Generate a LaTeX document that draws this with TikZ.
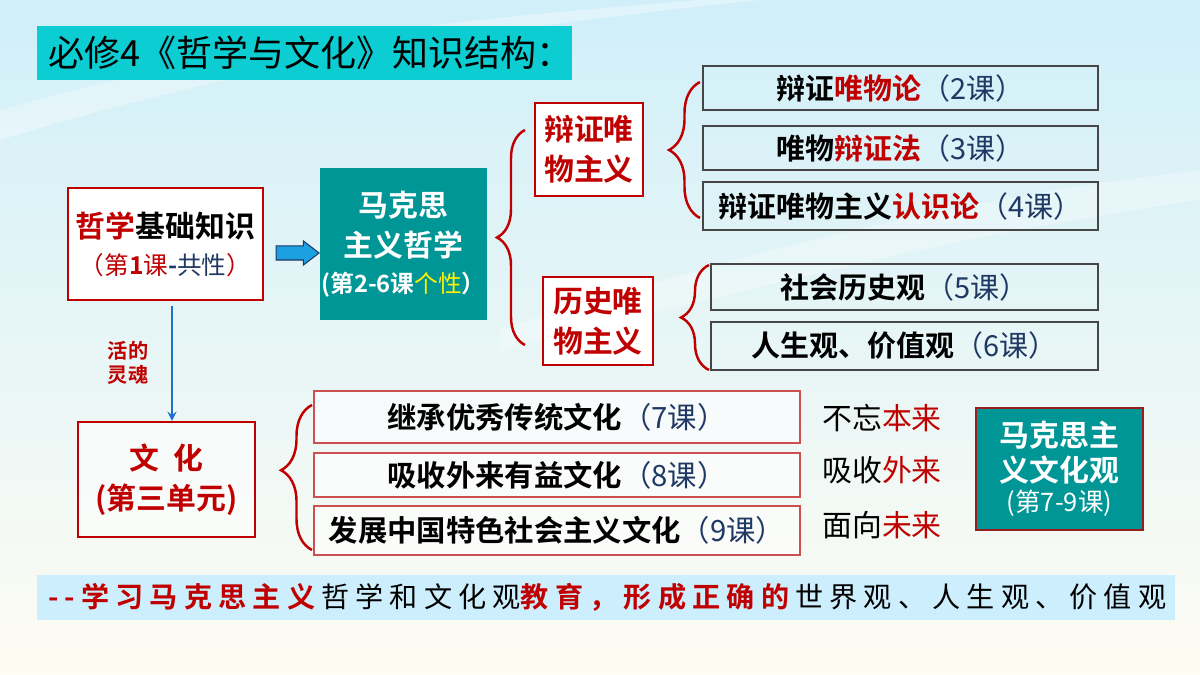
\documentclass[tikz,border=0pt]{standalone}
\usepackage{fontspec}
\setmainfont{Noto Sans CJK SC}[BoldFont={Noto Sans CJK SC Bold}]
\usetikzlibrary{shapes.arrows,decorations.pathreplacing}

\definecolor{hred}{RGB}{192,0,0}
\definecolor{navy}{RGB}{31,56,100}
\definecolor{tealbg}{RGB}{0,150,150}
\definecolor{cyanbar}{RGB}{12,206,210}
\definecolor{arrowblue}{RGB}{27,161,226}
\definecolor{lineblue}{RGB}{30,115,200}
\definecolor{palebar}{RGB}{205,238,252}
\definecolor{bgtop}{RGB}{208,239,249}
\definecolor{bgmid}{RGB}{236,248,250}
\definecolor{bgbot}{RGB}{254,252,243}
\definecolor{boxgray}{RGB}{70,70,70}
\definecolor{thinred}{RGB}{205,80,80}
\definecolor{darkred}{RGB}{150,30,30}

\newcommand{\hr}[1]{\textcolor{hred}{#1}}
\newcommand{\ke}[1]{\textcolor{navy}{\mdseries#1}}

\begin{document}
\begin{tikzpicture}[x=0.02cm, y=-0.02cm, >=stealth,
  redbox/.style={draw=hred, line width=1.3pt, fill=white, align=center, inner sep=0pt,
    font=\bfseries\fontsize{17}{23}\selectfont},
  tealbox/.style={fill=tealbg, text=white, align=center, inner sep=0pt,
    font=\bfseries\fontsize{17}{23}\selectfont},
  lessonbox/.style={draw=boxgray, line width=0.9pt, minimum width=#1, inner sep=0pt,
    font=\bfseries\fontsize{16.5}{20}\selectfont},
  lessonbox/.default=7.9cm,
  culturebox/.style={draw=thinred, line width=0.8pt, fill=white, fill opacity=0.6, text opacity=1,
    minimum width=9.72cm, inner sep=0pt, font=\bfseries\fontsize{16.7}{20}\selectfont},
  motto/.style={font=\fontsize{17}{20}\selectfont, inner sep=0pt},
  curly/.style={decorate, decoration={brace, amplitude=#1}, draw=hred, line width=1.4pt},
  curlyat/.style={decorate, decoration={brace, amplitude=0.62cm, aspect=#1}, draw=hred, line width=1.4pt}
]
% background
\shade[top color=bgtop, middle color=bgmid, bottom color=bgbot] (0,0) rectangle (1200,675);
\useasboundingbox (0,0) rectangle (1200,675);
\fill[white, opacity=0.35] (0,110) .. controls (250,40) and (450,20) .. (700,0) -- (760,0) .. controls (480,30) and (260,60) .. (0,140) -- cycle;
\fill[white, opacity=0.3] (500,330) .. controls (750,250) and (950,200) .. (1200,170) -- (1200,200) .. controls (950,235) and (750,290) .. (500,350) -- cycle;

% title
\node[fill=cyanbar, minimum width=10.7cm, minimum height=1.08cm, anchor=west,
  inner xsep=0.22cm, text width=10.26cm, font=\fontsize{20.5}{22}\selectfont] (title) at (37,53)
  {必修4《哲学与文化》知识结构：};

% philosophy
\node[redbox, minimum width=3.9cm, minimum height=2.24cm] (base) at (165.5,244)
  {\hr{哲学}基础知识\\[-2pt]{\mdseries\fontsize{14}{23}\selectfont\hr{（第\textbf{1}课}\textbf{\textcolor{navy}{-}}\textcolor{navy}{共性}\hr{）}}};
\node[tealbox, minimum width=3.34cm, minimum height=3.04cm] (marx) at (403.5,244)
  {马克思\\主义哲学\\[-3pt]{\fontsize{13.5}{23}\selectfont(第2-6课\textcolor{yellow}{\mdseries 个性}）}};
\node[single arrow, fill=arrowblue, draw=navy, line width=0.6pt, inner sep=0.13cm,
  single arrow head extend=0.1cm, single arrow tip angle=75, minimum height=0.86cm] (go) at (293,253) {};

\node[redbox, text=hred, minimum width=2.16cm, minimum height=1.86cm] (dialmat) at (589,149.5) {辩证唯\\物主义};
\node[redbox, text=hred, minimum width=2.2cm, minimum height=1.76cm] (histmat) at (598,321) {历史唯\\物主义};

\node[lessonbox, minimum height=0.88cm] (l2) at (900.5,88) {辩证\hr{唯物论}\ke{（2课）}};
\node[lessonbox, minimum height=0.88cm] (l3) at (900.5,148) {唯物\hr{辩证法}\ke{（3课）}};
\node[lessonbox, minimum height=0.96cm] (l4) at (900.5,206) {辩证唯物主义\hr{认识论}\ke{（4课）}};
\node[lessonbox=7.74cm, minimum height=0.92cm] (l5) at (904.5,287) {社会历史观\ke{（5课）}};
\node[lessonbox=7.74cm, minimum height=0.96cm] (l6) at (904.5,346) {人生观、价值观\ke{（6课）}};

% braces
\coordinate (b1s) at (525,345); \coordinate (b1e) at (525,130);
\coordinate (b2s) at (700,218); \coordinate (b2e) at (700,82);
\coordinate (b3s) at (709,370); \coordinate (b3e) at (709,265);
\coordinate (b4s) at (312,550); \coordinate (b4e) at (312,405);
\draw[curly=0.56cm] (b1s) -- (b1e);
\draw[curly=0.62cm] (b2s) -- (b2e);
\draw[curly=0.56cm] (b3s) -- (b3e);
\draw[curlyat=0.55] (b4s) -- (b4e);

% culture
\node[redbox, text=hred, fill opacity=0.5, text opacity=1, minimum width=3.54cm, minimum height=2.3cm] (culture) at (166.5,479.5)
  {文\ \ 化\\(第三单元)};
\draw[->, lineblue, line width=1.3pt] ([xshift=0.13cm, yshift=-0.1cm]base.south) -- ([xshift=0.13cm]base.south |- culture.north);
\node[font=\bfseries\fontsize{11.5}{13.6}\selectfont, text=hred, align=center, inner sep=0pt] (soul) at (128,363) {活的\\灵魂};

\node[culturebox, minimum height=1.04cm] (l7) at (557,417) {继承优秀传统文化\ke{（7课）}};
\node[culturebox, minimum height=0.88cm] (l8) at (557,475) {吸收外来有益文化\ke{（8课）}};
\node[culturebox, minimum height=0.98cm] (l9) at (557,530.5) {发展中国特色社会主义文化\ke{（9课）}};

\node[motto] (m7) at (882,418) {不忘\hr{本来}};
\node[motto] (m8) at (882,470) {吸收\hr{外来}};
\node[motto] (m9) at (882,525) {面向\hr{未来}};

\node[tealbox, draw=darkred, line width=0.8pt, minimum width=3.34cm, minimum height=2.44cm, font=\bfseries\fontsize{17}{20}\selectfont] (view) at (1059.5,469)
  {马克思主\\义文化观\\[-3pt]{\mdseries\fontsize{14.5}{20}\selectfont(第7-9课)}};

% bottom line
\node[fill=palebar, minimum width=22.76cm, minimum height=0.9cm, inner xsep=0.22cm, text width=22.32cm,
  font=\fontsize{16}{18}\selectfont\addfontfeature{LetterSpace=22}] (goal) at (606,597.5)
  {\hr{\textbf{-{}-学习马克思主义}}哲学和文化观\hr{\textbf{教育，形成正确的}}世界观、人生观、价值观};
\end{tikzpicture}
\end{document}
